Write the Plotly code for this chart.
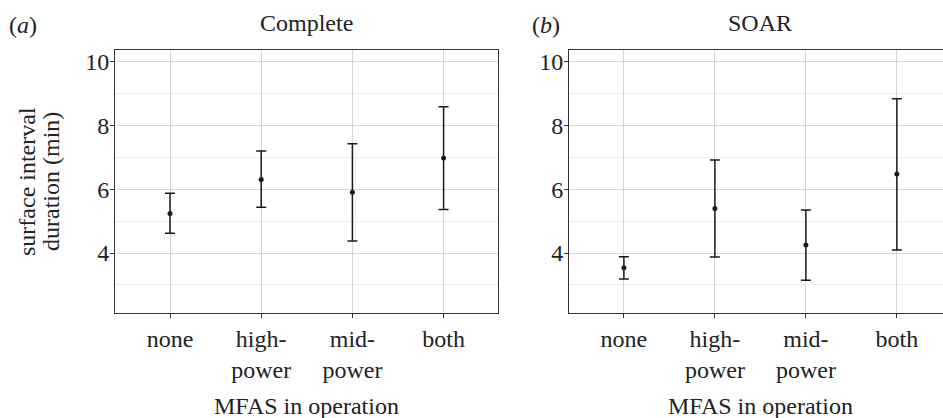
import plotly.graph_objects as go

categories = ["none", "high-power", "mid-power", "both"]
tick_labels = ["none", "high-<br>power", "mid-<br>power", "both"]

complete_mean = [5.24, 6.31, 5.91, 6.98]
complete_lower = [4.62, 5.44, 4.38, 5.37]
complete_upper = [5.88, 7.20, 7.43, 8.59]

soar_mean = [3.54, 5.40, 4.25, 6.48]
soar_lower = [3.19, 3.875, 3.15, 4.10]
soar_upper = [3.885, 6.92, 5.35, 8.84]

y_ticks = [4, 6, 8, 10]

FONT = "Liberation Serif"
TXT = 24
INK = "#1a1a1a"
BORDER = "#333333"
GRID = "#d6d6d6"
MINOR = "#ececec"
W, H = 943, 418

fig = go.Figure()

def add_panel(means, lows, highs, xa, ya):
    fig.add_trace(go.Scatter(
        x=categories, y=means, mode="markers",
        marker=dict(color=INK, size=5),
        error_y=dict(type="data", symmetric=False,
                     array=[h - m for h, m in zip(highs, means)],
                     arrayminus=[m - l for m, l in zip(means, lows)],
                     color=INK, thickness=1.5, width=5),
        xaxis=xa, yaxis=ya, showlegend=False, cliponaxis=False))

add_panel(complete_mean, complete_lower, complete_upper, "x", "y")
add_panel(soar_mean, soar_lower, soar_upper, "x2", "y2")

ytop = 1 - 50 / H
ybot = 1 - 312.7 / H

common_x = dict(type="category", categoryorder="array", categoryarray=categories,
                tickvals=categories, ticktext=tick_labels,
                showgrid=True, gridcolor=GRID, gridwidth=1,
                showline=True, linecolor=BORDER, linewidth=1.3, mirror=True,
                ticks="outside", ticklen=4, tickcolor=BORDER, tickwidth=1,
                tickfont=dict(family=FONT, size=TXT, color="#222"),
                zeroline=False, automargin=False)
common_y = dict(range=[2.13, 10.37], tickvals=y_ticks,
                showgrid=True, gridcolor=GRID, gridwidth=1,
                minor=dict(tickvals=[3, 5, 7, 9], showgrid=True, gridcolor=MINOR, gridwidth=1, ticks=""),
                showline=True, linecolor=BORDER, linewidth=1.3,
                ticks="outside", ticklen=4, tickcolor=BORDER, tickwidth=1,
                ticklabelstandoff=-4,
                tickfont=dict(family=FONT, size=TXT, color="#222"),
                zeroline=False, automargin=False)

fig.update_layout(
    width=W, height=H,
    margin=dict(l=0, r=0, t=0, b=0),
    paper_bgcolor="white", plot_bgcolor="white",
    xaxis=dict(common_x, domain=[115.3 / W, 498.3 / W], range=[-0.6, 3.6]),
    yaxis=dict(common_y, domain=[ybot, ytop], mirror=True),
    xaxis2=dict(common_x, domain=[569.3 / W, 1.0], range=[-0.6, 3.507], anchor="y2"),
    yaxis2=dict(common_y, domain=[ybot, ytop], mirror=False, anchor="x2"),
)

ann_font = dict(family=FONT, size=TXT, color="#222")
for xr, title in [("x", "Complete"), ("x2", "SOAR")]:
    fig.add_annotation(x=1.5, xref=xr, y=1 - 23 / H, yref="paper", text=title,
                       showarrow=False, font=ann_font, xanchor="center", yanchor="middle")
    fig.add_annotation(x=1.5, xref=xr, y=1 - 406 / H, yref="paper", text="MFAS in operation",
                       showarrow=False, font=ann_font, xanchor="center", yanchor="middle")

fig.add_annotation(x=23 / W, xref="paper", y=1 - 25 / H, yref="paper", text="(<i>a</i>)",
                   showarrow=False, font=ann_font, xanchor="center", yanchor="middle")
fig.add_annotation(x=546 / W, xref="paper", y=1 - 25 / H, yref="paper", text="(<i>b</i>)",
                   showarrow=False, font=ann_font, xanchor="center", yanchor="middle")
for xpix, line in [(27, "surface interval"), (51, "duration (min)")]:
    fig.add_annotation(x=xpix / W, xref="paper", y=1 - 182 / H, yref="paper",
                       text=line, textangle=-90,
                       showarrow=False, font=ann_font, xanchor="center", yanchor="middle")

fig.write_html("out.html", config={"displayModeBar": False},
               post_script="document.body.style.margin='0';document.body.style.overflow='hidden';")
